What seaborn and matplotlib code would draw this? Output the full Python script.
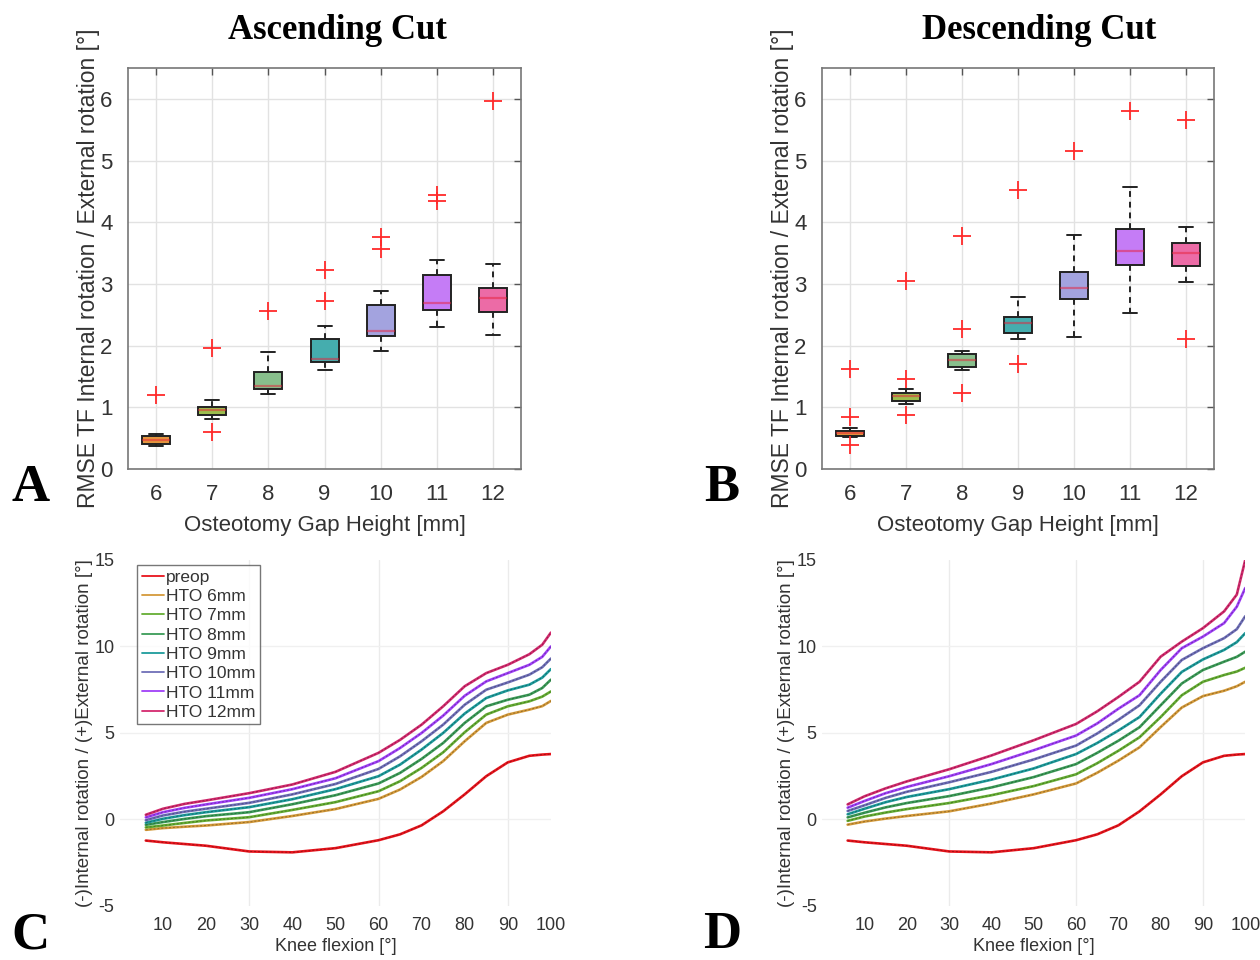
import numpy as np
import matplotlib
matplotlib.use("Agg")
import matplotlib.pyplot as plt
import pandas as pd
import seaborn as sns

# ---- data -------------------------------------------------------------
gaps = [6, 7, 8, 9, 10, 11, 12]

# RMSE per gap height (13 knees each), ascending cut
asc_rmse = [
    [0.38, 0.39, 0.40, 0.41, 0.43, 0.45, 0.47, 0.49, 0.51, 0.53, 0.55, 0.56, 1.20],
    [0.60, 0.81, 0.85, 0.88, 0.91, 0.94, 0.96, 0.98, 1.00, 1.01, 1.06, 1.11, 1.96],
    [1.21, 1.25, 1.28, 1.30, 1.32, 1.34, 1.35, 1.42, 1.50, 1.57, 1.75, 1.90, 2.56],
    [1.60, 1.65, 1.70, 1.73, 1.75, 1.77, 1.79, 1.90, 2.00, 2.11, 2.31, 2.72, 3.22],
    [1.92, 2.05, 2.12, 2.16, 2.19, 2.22, 2.24, 2.38, 2.52, 2.65, 2.88, 3.57, 3.76],
    [2.30, 2.45, 2.53, 2.58, 2.62, 2.66, 2.69, 2.85, 3.00, 3.15, 3.38, 4.35, 4.44],
    [2.17, 2.35, 2.48, 2.55, 2.62, 2.70, 2.77, 2.82, 2.88, 2.93, 3.10, 3.32, 5.96],
]
# descending cut
desc_rmse = [
    [0.395, 0.52, 0.53, 0.535, 0.55, 0.57, 0.58, 0.60, 0.61, 0.62, 0.665, 0.84, 1.62],
    [0.87, 1.05, 1.08, 1.10, 1.13, 1.16, 1.18, 1.20, 1.22, 1.23, 1.30, 1.46, 3.04],
    [1.23, 1.605, 1.63, 1.65, 1.69, 1.73, 1.76, 1.80, 1.84, 1.865, 1.91, 2.27, 3.78],
    [1.70, 2.11, 2.16, 2.205, 2.26, 2.32, 2.36, 2.40, 2.43, 2.46, 2.60, 2.78, 4.52],
    [2.14, 2.45, 2.65, 2.76, 2.83, 2.89, 2.935, 3.02, 3.11, 3.20, 3.45, 3.79, 5.16],
    [2.52, 2.95, 3.20, 3.31, 3.39, 3.46, 3.53, 3.65, 3.77, 3.89, 4.20, 4.57, 5.80],
    [2.11, 3.03, 3.18, 3.29, 3.36, 3.43, 3.50, 3.55, 3.61, 3.66, 3.80, 3.92, 5.65],
]

flexion = [6, 10, 15, 20, 30, 40, 50, 60, 65, 70, 75, 80, 85, 90, 95, 98, 100]
preop = [-1.22, -1.32, -1.42, -1.52, -1.85, -1.90, -1.66, -1.20, -0.86, -0.34,
         0.47, 1.45, 2.50, 3.30, 3.68, 3.75, 3.78]

asc_curves = {
    "HTO 6mm":  [-0.60, -0.50, -0.42, -0.35, -0.15, 0.20, 0.60, 1.19, 1.73, 2.46, 3.37, 4.52, 5.58, 6.06, 6.35, 6.55, 6.85],
    "HTO 7mm":  [-0.46, -0.35, -0.20, -0.06, 0.13, 0.55, 1.00, 1.63, 2.21, 2.98, 3.88, 5.04, 6.06, 6.54, 6.83, 7.10, 7.40],
    "HTO 8mm":  [-0.31, -0.15, 0.03, 0.19, 0.42, 0.88, 1.40, 2.08, 2.69, 3.50, 4.42, 5.58, 6.54, 6.92, 7.21, 7.60, 8.08],
    "HTO 9mm":  [-0.19, 0.04, 0.25, 0.42, 0.71, 1.17, 1.75, 2.50, 3.17, 4.04, 5.00, 6.12, 7.02, 7.46, 7.79, 8.20, 8.69],
    "HTO 10mm": [-0.04, 0.23, 0.45, 0.62, 0.96, 1.45, 2.05, 2.92, 3.65, 4.52, 5.48, 6.63, 7.50, 7.92, 8.37, 8.80, 9.30],
    "HTO 11mm": [0.12, 0.42, 0.67, 0.87, 1.25, 1.75, 2.38, 3.37, 4.13, 5.00, 6.00, 7.15, 7.98, 8.46, 8.94, 9.40, 10.00],
    "HTO 12mm": [0.27, 0.62, 0.90, 1.10, 1.52, 2.02, 2.75, 3.85, 4.60, 5.48, 6.54, 7.70, 8.46, 8.94, 9.55, 10.10, 10.80],
}
desc_curves = {
    "HTO 6mm":  [-0.30, -0.12, 0.05, 0.20, 0.47, 0.92, 1.45, 2.08, 2.70, 3.40, 4.17, 5.34, 6.47, 7.13, 7.44, 7.70, 7.96],
    "HTO 7mm":  [-0.08, 0.17, 0.40, 0.60, 0.95, 1.40, 1.93, 2.61, 3.25, 3.97, 4.75, 5.92, 7.18, 7.96, 8.35, 8.55, 8.77],
    "HTO 8mm":  [0.12, 0.39, 0.70, 0.95, 1.35, 1.85, 2.45, 3.20, 3.85, 4.55, 5.33, 6.60, 7.86, 8.64, 9.12, 9.40, 9.70],
    "HTO 9mm":  [0.30, 0.62, 1.00, 1.30, 1.75, 2.30, 2.95, 3.78, 4.42, 5.14, 5.92, 7.27, 8.53, 9.25, 9.80, 10.25, 10.77],
    "HTO 10mm": [0.49, 0.82, 1.25, 1.60, 2.15, 2.75, 3.47, 4.27, 4.97, 5.76, 6.60, 7.96, 9.22, 9.90, 10.48, 11.00, 11.75],
    "HTO 11mm": [0.68, 1.07, 1.52, 1.88, 2.50, 3.20, 4.00, 4.85, 5.55, 6.40, 7.18, 8.64, 9.90, 10.57, 11.35, 12.30, 13.38],
    "HTO 12mm": [0.87, 1.34, 1.80, 2.20, 2.90, 3.70, 4.58, 5.52, 6.25, 7.08, 7.96, 9.41, 10.28, 11.06, 12.03, 13.00, 15.00],
}

box_colors = ["#E3973F", "#9CBE4E", "#88BF8C", "#45ADAE", "#A3A3DF", "#C57CF6", "#EC6BA6"]
line_colors = ["#E8141C", "#D49A3A", "#66AE34", "#3C9C58", "#1E9C9C",
               "#6F6FB8", "#A040F8", "#D42A6E"]

# ---- style ------------------------------------------------------------
sns.set_style("white")
plt.rcParams["font.family"] = ["Liberation Sans", "DejaVu Sans"]
plt.rcParams["axes.unicode_minus"] = False
plt.rcParams["text.color"] = "#333333"
plt.rcParams["axes.labelcolor"] = "#333333"
plt.rcParams["xtick.color"] = "#333333"
plt.rcParams["ytick.color"] = "#333333"

fig = plt.figure(figsize=(12.6, 9.6), dpi=100)
ax_a = fig.add_axes([0.1016, 0.5115, 0.312, 0.4177])
ax_b = fig.add_axes([0.6524, 0.5115, 0.311, 0.4177])
ax_c = fig.add_axes([0.0952, 0.0563, 0.342, 0.3604])
ax_d = fig.add_axes([0.6526, 0.0563, 0.3357, 0.3604])


def box_panel(ax, rmse):
    df = pd.DataFrame({
        "gap": [str(g) for g, vals in zip(gaps, rmse) for _ in vals],
        "rmse": [v for vals in rmse for v in vals],
    })
    sns.boxplot(data=df, x="gap", y="rmse", hue="gap", palette=box_colors,
                legend=False, saturation=1, width=0.5, whis=1.5,
                linecolor="#222222", linewidth=1.4, ax=ax,
                whiskerprops=dict(linestyle=(0, (3, 2.5)), linewidth=1.4),
                capprops=dict(linewidth=1.4),
                medianprops=dict(color="#E8203A", alpha=0.5, linewidth=1.6),
                flierprops=dict(marker="+", markeredgecolor="#FF2A2A",
                                markersize=13, markeredgewidth=1.3))
    ax.set_xlim(-0.5, 6.5)
    ax.set_ylim(0, 6.5)
    ax.set_yticks(range(0, 7))
    ax.grid(True, color="#E2E2E2", linewidth=1)
    ax.set_axisbelow(True)
    for s in ax.spines.values():
        s.set_color("#777777")
        s.set_linewidth(1.2)
    ax.tick_params(direction="in", length=5, width=1, top=True, right=True,
                   labelsize=16, color="#555555", pad=11)
    ax.set_xlabel("Osteotomy Gap Height [mm]", fontsize=16, labelpad=7)
    ax.set_ylabel("RMSE TF Internal rotation / External rotation [°]",
                  fontsize=16.5, labelpad=0)


def line_panel(ax, curves, show_legend):
    labels = ["preop"] + list(curves.keys())
    series = [preop] + list(curves.values())
    df = pd.DataFrame({
        "flexion": flexion * len(labels),
        "rotation": [v for s in series for v in s],
        "case": [lab for lab in labels for _ in flexion],
    })
    sns.lineplot(data=df, x="flexion", y="rotation", hue="case",
                 hue_order=labels, palette=line_colors, linewidth=1.9,
                 ax=ax, legend=show_legend)
    # dark dashed overlay, as in the original figure
    sns.lineplot(data=df, x="flexion", y="rotation", units="case",
                 estimator=None, color="black", linewidth=0.7, alpha=0.3,
                 linestyle=(0, (2, 2)), ax=ax, legend=False)
    ax.set_xlim(0, 100)
    ax.set_ylim(-5, 15)
    ax.set_xticks(range(10, 101, 10))
    ax.set_yticks([-5, 0, 5, 10, 15])
    ax.grid(False)
    for v in [30, 60, 90]:
        ax.axvline(v, color="#EBEBEB", linewidth=1, zorder=0)
    for v in [0, 5, 10]:
        ax.axhline(v, color="#F0F0F0", linewidth=1, zorder=0)
    sns.despine(ax=ax, left=True, bottom=True)
    ax.tick_params(axis="x", length=3, width=1, color="#999999", labelsize=13, pad=5)
    ax.tick_params(axis="y", length=0, labelsize=13, pad=4)
    ax.set_xlabel("Knee flexion [°]", fontsize=13, labelpad=3)
    ax.set_ylabel("(-)Internal rotation / (+)External rotation [°]",
                  fontsize=13.5, labelpad=1)
    if show_legend:
        leg = ax.legend(loc="upper left", bbox_to_anchor=(0.04, 0.985),
                        fontsize=12.5, frameon=True, fancybox=False,
                        handlelength=1.3, handletextpad=0.1,
                        labelspacing=0.24, borderpad=0.25, borderaxespad=0)
        leg.get_frame().set_edgecolor("#555555")
        leg.get_frame().set_linewidth(1.0)
        for h in leg.get_lines():
            h.set_linewidth(1.3)


box_panel(ax_a, asc_rmse)
box_panel(ax_b, desc_rmse)
line_panel(ax_c, asc_curves, True)
line_panel(ax_d, desc_curves, False)

serif = ["Liberation Serif", "DejaVu Serif"]
fig.text(0.268, 0.968, "Ascending Cut", ha="center", va="center",
         fontsize=25, fontweight="bold", family=serif, color="black")
fig.text(0.825, 0.968, "Descending Cut", ha="center", va="center",
         fontsize=25, fontweight="bold", family=serif, color="black")
for x, y, letter in [(0.024, 0.478, "A"), (0.573, 0.478, "B"),
                     (0.024, 0.012, "C"), (0.573, 0.012, "D")]:
    fig.text(x, y, letter, ha="center", va="baseline", fontsize=38,
             fontweight="bold", family=serif, color="black")

fig.savefig("out.png", dpi=100)
